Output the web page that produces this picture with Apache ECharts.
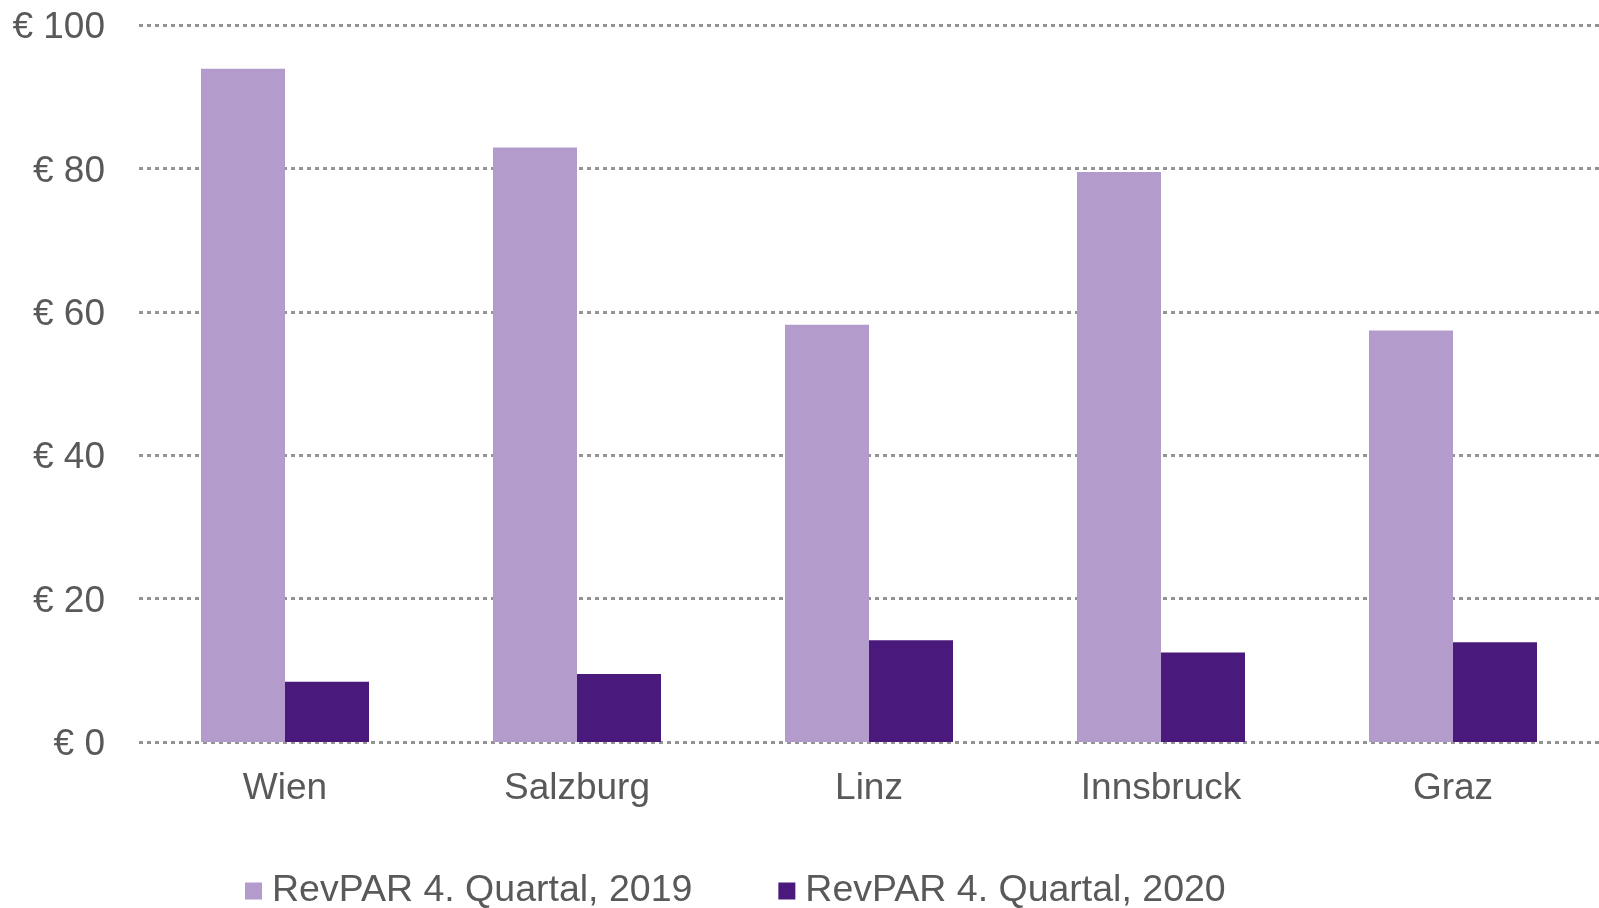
<!DOCTYPE html>
<html>
<head>
<meta charset="utf-8">
<script src="https://cdn.jsdelivr.net/npm/echarts@6/dist/echarts.min.js"></script>
<style>
html,body{margin:0;padding:0;background:#fff;}
#chart{width:1599px;height:908px;}
</style>
</head>
<body>
<div id="chart"></div>
<script>
const categories = ['Wien', 'Salzburg', 'Linz', 'Innsbruck', 'Graz'];
const seriesNames = ['RevPAR 4. Quartal, 2019', 'RevPAR 4. Quartal, 2020'];
const values2019 = [93.9, 82.9, 58.2, 79.5, 57.4];
const values2020 = [8.4, 9.5, 14.2, 12.5, 13.9];
const yTicks = [0, 20, 40, 60, 80, 100];

const FONT = '"Liberation Sans", Arial, sans-serif';
const chart = echarts.init(document.getElementById('chart'), null, {renderer: 'canvas'});
chart.setOption({
  animation: false,
  backgroundColor: '#ffffff',
  grid: {left: 139, right: -5, top: 25, bottom: 166, containLabel: false},
  legend: {
    data: seriesNames,
    left: 245,
    top: 872,
    padding: 0,
    itemWidth: 17,
    itemHeight: 17,
    itemGap: 86,
    icon: 'rect',
    textStyle: {fontFamily: FONT, fontSize: 37.5, color: '#595959', padding: [0, 0, 0, 5]}
  },
  xAxis: {
    type: 'category',
    data: categories,
    axisLine: {show: false},
    axisTick: {show: false},
    axisLabel: {fontFamily: FONT, fontSize: 37, color: '#595959', margin: 28}
  },
  yAxis: {
    type: 'value',
    min: yTicks[0],
    max: yTicks[yTicks.length - 1],
    interval: 20,
    axisLine: {show: false},
    axisTick: {show: false},
    axisLabel: {fontFamily: FONT, fontSize: 37, color: '#595959', margin: 34,
      formatter: v => '{a|€ ' + v + '}',
      rich: {a: {fontFamily: FONT, fontSize: 37, color: '#595959', lineHeight: 37, padding: [6, 0, 0, 0]}}},
    splitLine: {lineStyle: {color: '#939393', width: 3, type: [4, 4]}}
  },
  series: [
    {name: seriesNames[0], type: 'bar', data: values2019, barWidth: 84, barGap: '0%',
     itemStyle: {color: '#b39bcc'}},
    {name: seriesNames[1], type: 'bar', data: values2020, barWidth: 84, barGap: '0%',
     itemStyle: {color: '#4a197c'}}
  ]
});
</script>
</body>
</html>
